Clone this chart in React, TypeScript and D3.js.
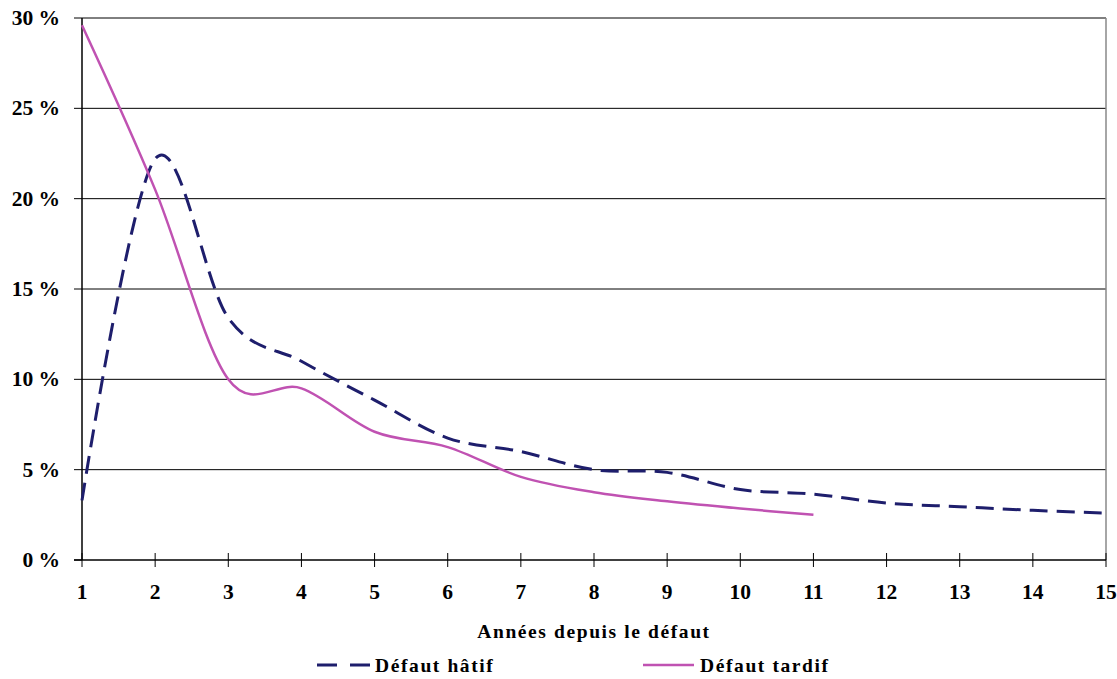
import React from "react";
import * as d3 from "d3";

const years = [1, 2, 3, 4, 5, 6, 7, 8, 9, 10, 11, 12, 13, 14, 15];
const hatif = [3.3, 22.2, 13.4, 11.0, 8.85, 6.75, 6.0, 5.0, 4.85, 3.9, 3.65, 3.15, 2.95, 2.75, 2.6];
const tardif = [29.6, 20.5, 10.0, 9.5, 7.1, 6.25, 4.6, 3.75, 3.25, 2.85, 2.5];
const yTicks = [0, 5, 10, 15, 20, 25, 30];
const seriesNames = ["Défaut hâtif", "Défaut tardif"];
const xTitle = "Années depuis le défaut";

const W = 1117, H = 679;
const left = 82, right = 1106, top = 18, bottom = 560;
const navy = "#1e1e6c";
const pink = "#c052b2";
const font = "'Liberation Serif', 'Times New Roman', serif";

export default function App() {
  const x = d3.scaleLinear().domain([1, 15]).range([left, right]);
  const y = d3.scaleLinear().domain([0, 30]).range([bottom, top]);
  const line = d3
    .line<number>()
    .x((_, i) => x(years[i]))
    .y((d) => y(d))
    .curve(d3.curveCardinal.tension(0));
  return (
    <svg width={W} height={H} style={{ position: "absolute", left: 0, top: 0, background: "#fff" }}>
      {yTicks.slice(1).map((t) => (
        <line key={t} x1={left} x2={right} y1={y(t)} y2={y(t)} stroke="#000" strokeWidth={1} />
      ))}
      <line x1={right} x2={right} y1={top} y2={bottom} stroke="#888" strokeWidth={1.5} />
      <line x1={left} x2={left} y1={top} y2={bottom} stroke="#000" strokeWidth={1.5} />
      <line x1={left - 8} x2={right} y1={bottom} y2={bottom} stroke="#000" strokeWidth={1.5} />
      {yTicks.map((t) => (
        <g key={t}>
          <line x1={left - 8} x2={left} y1={y(t)} y2={y(t)} stroke="#000" strokeWidth={1} />
          <text x={60} y={y(t) + 7} textAnchor="end" fontFamily={font} fontWeight="bold" fontSize={21.5}>
            {t} %
          </text>
        </g>
      ))}
      {years.map((v) => (
        <g key={v}>
          <line x1={x(v)} x2={x(v)} y1={bottom - 7} y2={bottom + 7} stroke="#000" strokeWidth={1} />
          <text x={x(v)} y={599} textAnchor="middle" fontFamily={font} fontWeight="bold" fontSize={21.5}>
            {v}
          </text>
        </g>
      ))}
      <text x={594} y={638} textAnchor="middle" fontFamily={font} fontWeight="bold" fontSize={19.5} letterSpacing={1.6}>
        {xTitle}
      </text>
      <path d={line(hatif) || ""} fill="none" stroke={navy} strokeWidth={3} strokeDasharray="18 9" />
      <path d={line(tardif) || ""} fill="none" stroke={pink} strokeWidth={2.5} />
      <line x1={317} x2={371} y1={665} y2={665} stroke={navy} strokeWidth={3} strokeDasharray="20 13" />
      <text x={375} y={672} fontFamily={font} fontWeight="bold" fontSize={19.5} letterSpacing={1.6}>
        {seriesNames[0]}
      </text>
      <line x1={643} x2={694} y1={665} y2={665} stroke={pink} strokeWidth={2.5} />
      <text x={700} y={672} fontFamily={font} fontWeight="bold" fontSize={19.5} letterSpacing={1.6}>
        {seriesNames[1]}
      </text>
    </svg>
  );
}
